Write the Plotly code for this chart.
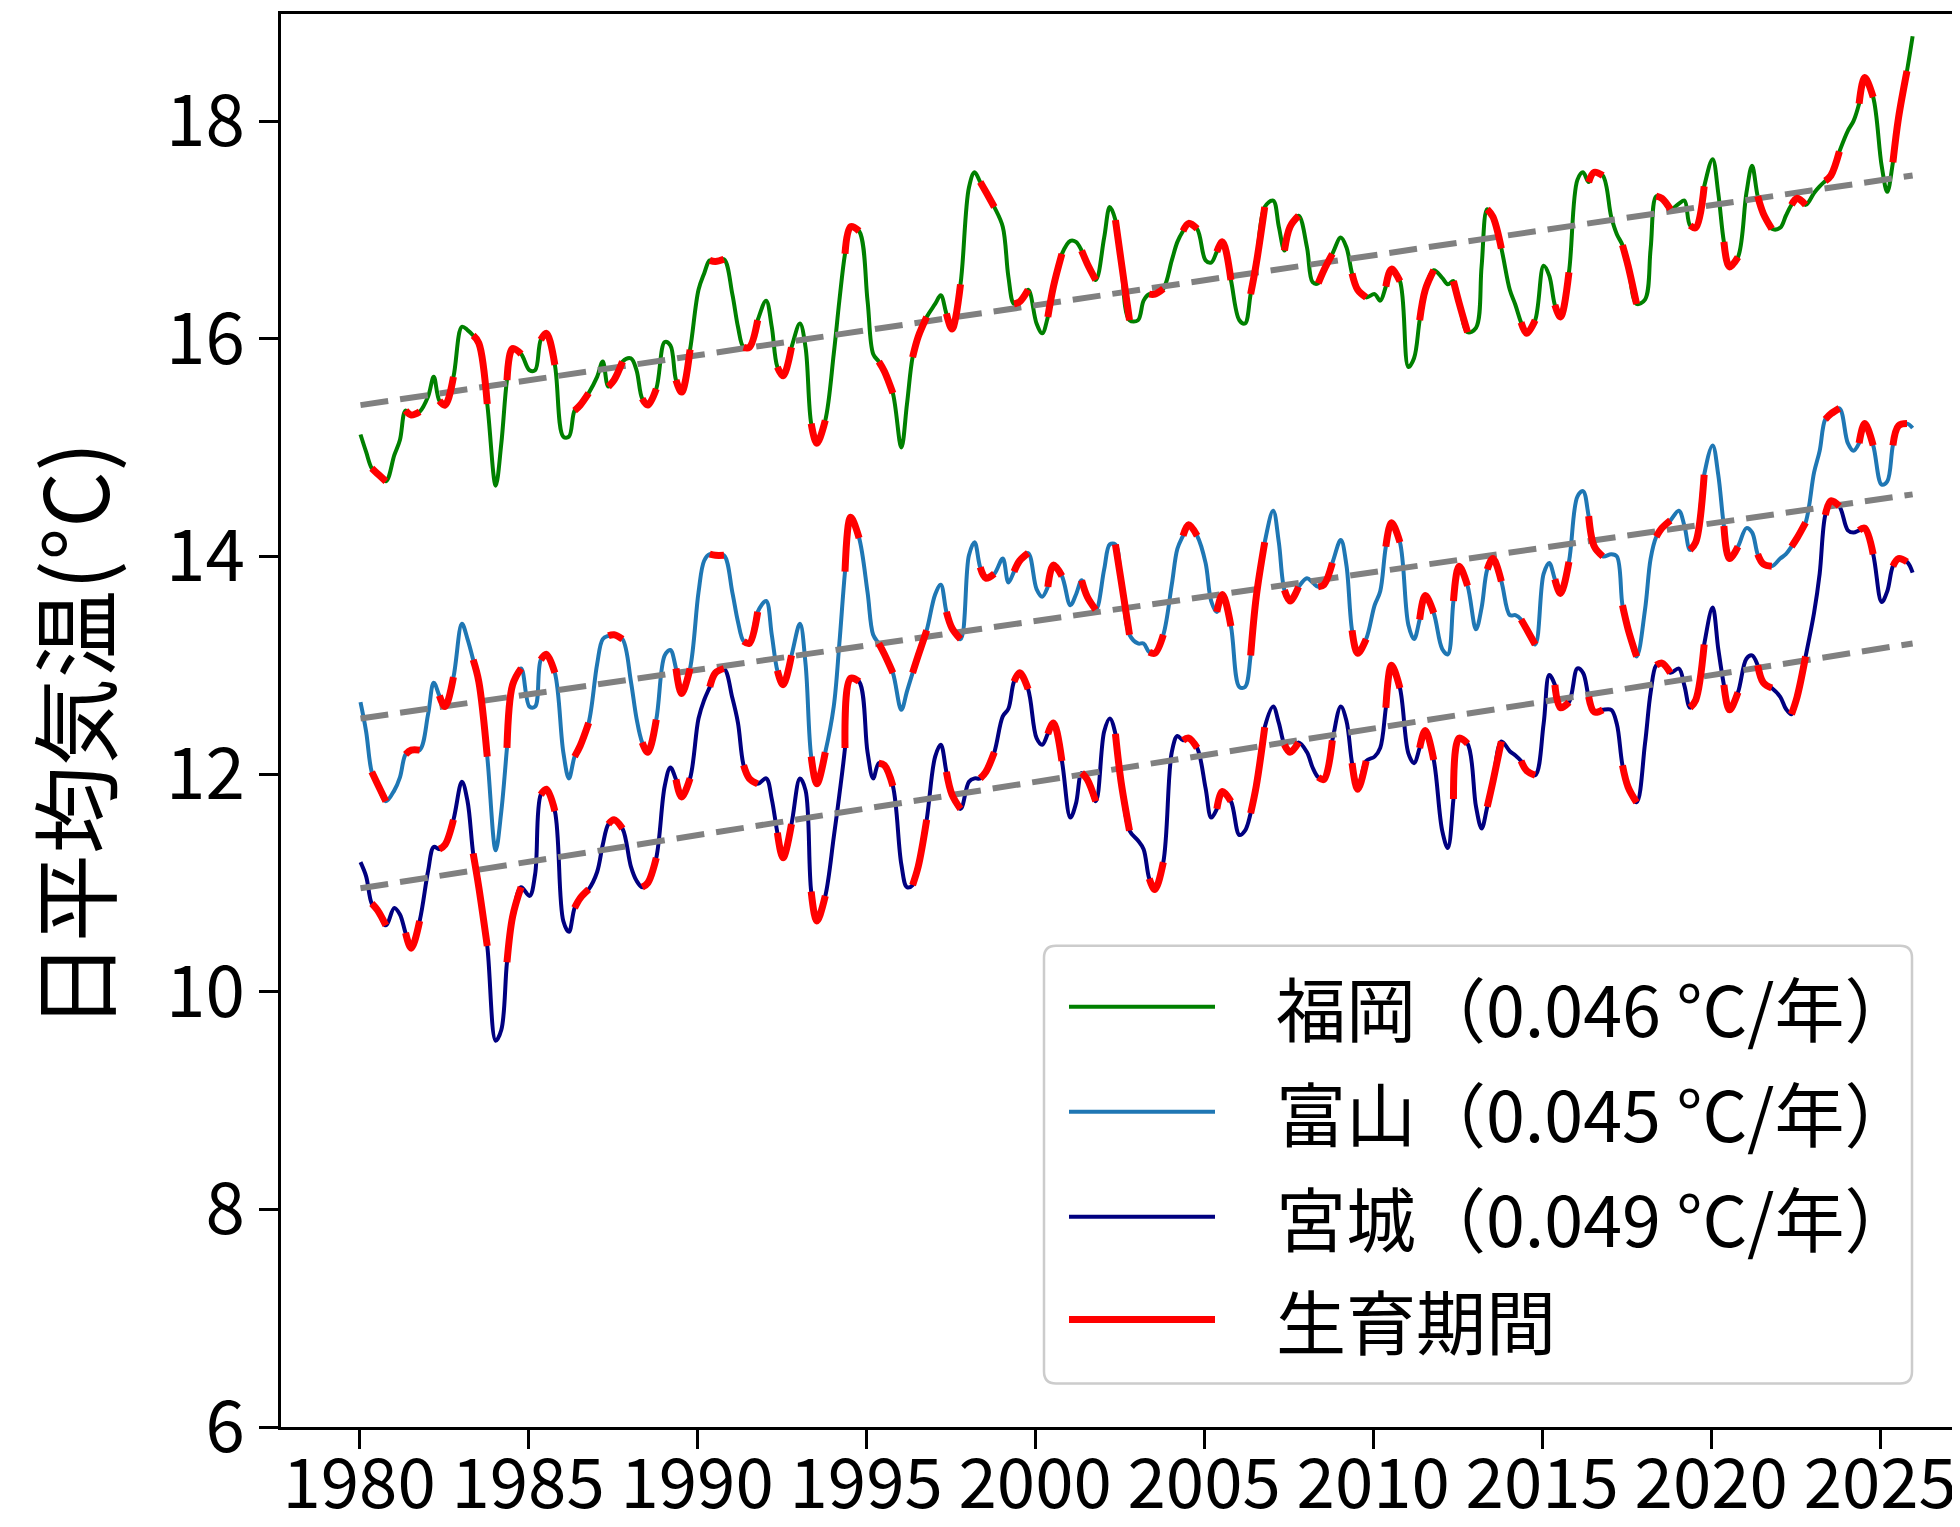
import plotly.graph_objects as go

# ---------------- data ----------------
YEARS = list(range(1980, 2026))
KNOT_MONTHS = [1, 3, 5, 7, 10]          # smoothed monthly values read at these months
FINAL_MONTH = (2025, 12)                 # last point of the series
SEASON_MONTHS = [5, 7, 10]               # 生育期間 (May - Oct)

STATIONS = ["福岡", "富山", "宮城"]
SLOPES = [0.046, 0.045, 0.049]           # °C / year (legend)
TREND_START = [15.39, 12.51, 10.95]      # trend value at start of 1980
TREND_END = [17.50, 14.57, 13.20]        # trend value at end of 2025

fukuoka = [
    15.12, 14.96, 14.81, 14.76, 14.69,
    14.93, 15.07, 15.34, 15.30, 15.33,
    15.47, 15.65, 15.43, 15.39, 15.65,
    16.11, 16.08, 16.03, 15.96, 15.40,
    14.65, 15.04, 15.62, 15.91, 15.86,
    15.71, 15.71, 15.99, 16.05, 15.76,
    15.10, 15.10, 15.34, 15.39, 15.50,
    15.65, 15.79, 15.56, 15.62, 15.79,
    15.82, 15.71, 15.45, 15.39, 15.54,
    15.97, 15.94, 15.62, 15.51, 15.90,
    16.45, 16.60, 16.72, 16.71, 16.73,
    16.41, 16.11, 15.92, 15.92, 16.17,
    16.35, 16.11, 15.74, 15.66, 15.92,
    16.14, 15.92, 15.22, 15.04, 15.25,
    15.86, 16.35, 16.78, 17.03, 16.99,
    16.35, 15.86, 15.79, 15.70, 15.50,
    15.00, 15.40, 15.83, 16.02, 16.20,
    16.32, 16.40, 16.23, 16.09, 16.50,
    17.39, 17.53, 17.44, 17.35, 17.21,
    17.03, 16.57, 16.32, 16.34, 16.45,
    16.14, 16.05, 16.20, 16.48, 16.78,
    16.90, 16.89, 16.81, 16.69, 16.54,
    16.93, 17.21, 17.09, 16.72, 16.17,
    16.17, 16.35, 16.41, 16.41, 16.46,
    16.72, 16.89, 16.99, 17.06, 17.01,
    16.72, 16.70, 16.80, 16.89, 16.54,
    16.17, 16.14, 16.41, 16.69, 17.21,
    17.27, 17.03, 16.81, 17.03, 17.13,
    16.84, 16.52, 16.51, 16.63, 16.78,
    16.93, 16.84, 16.60, 16.45, 16.38,
    16.41, 16.35, 16.48, 16.64, 16.53,
    15.74, 15.82, 16.17, 16.45, 16.63,
    16.56, 16.50, 16.53, 16.33, 16.06,
    16.10, 16.67, 17.19, 17.12, 16.83,
    16.45, 16.31, 16.15, 16.05, 16.17,
    16.67, 16.58, 16.31, 16.20, 16.61,
    17.46, 17.53, 17.44, 17.53, 17.50,
    17.12, 16.96, 16.86, 16.67, 16.32,
    16.36, 16.83, 17.31, 17.29, 17.19,
    17.24, 17.27, 17.04, 17.02, 17.40,
    17.65, 17.34, 16.89, 16.66, 16.75,
    17.34, 17.59, 17.31, 17.15, 17.01,
    17.02, 17.13, 17.23, 17.29, 17.23,
    17.34, 17.40, 17.45, 17.50, 17.72,
    17.91, 18.00, 18.16, 18.40, 18.22,
    17.59, 17.35, 17.62, 18.03, 18.46,
    18.78,
]

toyama = [
    12.66, 12.39, 12.02, 11.91, 11.75,
    11.85, 11.97, 12.18, 12.22, 12.22,
    12.55, 12.84, 12.72, 12.62, 12.89,
    13.38, 13.24, 13.05, 12.85, 12.16,
    11.30, 11.66, 12.24, 12.82, 12.97,
    12.62, 12.62, 13.05, 13.10, 12.93,
    12.20, 11.96, 12.16, 12.26, 12.47,
    13.01, 13.24, 13.27, 13.28, 13.24,
    12.85, 12.51, 12.29, 12.20, 12.50,
    13.09, 13.14, 12.97, 12.74, 12.97,
    13.67, 13.96, 14.02, 14.01, 14.01,
    13.67, 13.40, 13.22, 13.20, 13.49,
    13.59, 13.28, 12.95, 12.82, 13.09,
    13.38, 13.01, 12.16, 11.91, 12.20,
    12.62, 13.20, 13.86, 14.36, 14.17,
    13.67, 13.28, 13.20, 13.10, 12.93,
    12.59, 12.76, 12.93, 13.09, 13.32,
    13.65, 13.74, 13.49, 13.34, 13.24,
    14.01, 14.13, 13.90, 13.80, 13.84,
    13.98, 13.76, 13.86, 13.96, 14.03,
    13.70, 13.63, 13.72, 13.92, 13.82,
    13.55, 13.65, 13.78, 13.63, 13.51,
    13.88, 14.11, 14.11, 13.78, 13.28,
    13.20, 13.20, 13.12, 13.11, 13.28,
    13.74, 14.07, 14.19, 14.29, 14.19,
    13.94, 13.59, 13.49, 13.65, 13.36,
    12.80, 12.80, 13.09, 13.63, 14.13,
    14.42, 14.13, 13.69, 13.59, 13.72,
    13.80, 13.76, 13.72, 13.74, 13.94,
    14.15, 13.92, 13.32, 13.11, 13.24,
    13.55, 13.68, 14.09, 14.31, 14.13,
    13.37, 13.24, 13.42, 13.64, 13.48,
    13.15, 13.10, 13.59, 13.91, 13.73,
    13.33, 13.53, 13.88, 13.98, 13.77,
    13.46, 13.46, 13.42, 13.33, 13.19,
    13.84, 13.94, 13.79, 13.66, 13.95,
    14.55, 14.60, 14.37, 14.09, 14.00,
    14.02, 14.00, 13.55, 13.33, 13.08,
    13.51, 13.98, 14.18, 14.26, 14.33,
    14.42, 14.28, 14.06, 14.13, 14.75,
    15.02, 14.75, 14.28, 13.98, 14.09,
    14.26, 14.22, 14.02, 13.93, 13.91,
    13.98, 14.02, 14.09, 14.17, 14.31,
    14.77, 14.97, 15.26, 15.31, 15.36,
    15.04, 14.97, 15.04, 15.22, 15.02,
    14.66, 14.69, 15.02, 15.20, 15.22,
    15.18,
]

miyagi = [
    11.19, 11.06, 10.81, 10.75, 10.61,
    10.77, 10.71, 10.54, 10.40, 10.65,
    11.11, 11.33, 11.31, 11.35, 11.58,
    11.93, 11.75, 11.27, 10.96, 10.42,
    9.55, 9.65, 10.27, 10.69, 10.96,
    10.88, 11.08, 11.81, 11.86, 11.66,
    10.65, 10.55, 10.77, 10.86, 10.94,
    11.10, 11.35, 11.54, 11.58, 11.50,
    11.15, 11.02, 10.96, 11.00, 11.23,
    11.89, 12.06, 11.95, 11.79, 11.96,
    12.51, 12.68, 12.80, 12.93, 12.97,
    12.70, 12.47, 12.08, 11.96, 11.91,
    11.96, 11.77, 11.46, 11.23, 11.54,
    11.96, 11.85, 10.92, 10.65, 10.88,
    11.42, 11.81, 12.24, 12.88, 12.85,
    12.20, 11.96, 12.10, 12.08, 11.89,
    11.17, 10.96, 10.98, 11.15, 11.58,
    12.16, 12.27, 12.02, 11.81, 11.68,
    11.93, 11.96, 11.96, 12.02, 12.20,
    12.53, 12.60, 12.85, 12.93, 12.78,
    12.33, 12.27, 12.37, 12.47, 12.12,
    11.60, 11.73, 12.01, 11.95, 11.75,
    12.39, 12.51, 12.37, 11.93, 11.48,
    11.39, 11.31, 11.04, 10.94, 11.19,
    12.20, 12.35, 12.31, 12.33, 12.24,
    11.87, 11.60, 11.68, 11.84, 11.75,
    11.44, 11.48, 11.64, 11.89, 12.43,
    12.62, 12.47, 12.27, 12.20, 12.29,
    12.20, 12.06, 11.97, 11.95, 12.31,
    12.62, 12.49, 12.10, 11.86, 12.12,
    12.16, 12.24, 12.61, 13.00, 12.79,
    12.19, 12.10, 12.24, 12.40, 12.13,
    11.48, 11.32, 11.77, 12.33, 12.28,
    11.70, 11.50, 11.70, 11.93, 12.30,
    12.21, 12.17, 12.12, 12.03, 11.99,
    12.46, 12.91, 12.82, 12.61, 12.66,
    12.97, 12.93, 12.71, 12.57, 12.59,
    12.59, 12.46, 12.08, 11.88, 11.74,
    12.28, 12.75, 13.00, 13.02, 12.93,
    12.97, 12.81, 12.61, 12.68, 13.19,
    13.53, 13.15, 12.82, 12.59, 12.75,
    13.06, 13.09, 13.00, 12.84, 12.79,
    12.71, 12.60, 12.55, 12.71, 13.08,
    13.48, 13.84, 14.38, 14.51, 14.46,
    14.24, 14.22, 14.24, 14.26, 14.02,
    13.58, 13.68, 13.91, 13.98, 13.95,
    13.85,
]

SERIES = [fukuoka, toyama, miyagi]
COLORS = ["green", "#1f77b4", "navy"]
SEASON_COLOR = "red"
TREND_COLOR = "gray"
FONT = "Noto Sans CJK JP"

# time axis: (year, month) -> decimal year at mid-month
ym = [(y, m) for y in YEARS for m in KNOT_MONTHS] + [FINAL_MONTH]
x = [y + (m - 0.5) / 12 for (y, m) in ym]
months = [m for (_, m) in ym]

fig = go.Figure()

for vals, col, name in zip(SERIES, COLORS, STATIONS):
    fig.add_trace(go.Scatter(x=x, y=vals, mode="lines", name=name,
                             line=dict(color=col, width=4, shape="spline"),
                             showlegend=False, hoverinfo="skip"))

for k in range(3):
    fig.add_trace(go.Scatter(x=[x[0], x[-1]], y=[TREND_START[k], TREND_END[k]],
                             mode="lines", showlegend=False, hoverinfo="skip",
                             line=dict(color=TREND_COLOR, width=6, dash="28px,12px")))

for vals in SERIES:
    season = [v if m in SEASON_MONTHS else None for v, m in zip(vals, months)]
    fig.add_trace(go.Scatter(x=x, y=season, mode="lines", name="生育期間",
                             line=dict(color=SEASON_COLOR, width=7, shape="spline"),
                             connectgaps=False, showlegend=False, hoverinfo="skip"))

# ---------------- layout ----------------
# the page body has an 8px default margin: the figure is sized to compensate
OFF = 8
PAGE_W, PAGE_H = 1960, 1527
W, H = PAGE_W - OFF, PAGE_H - OFF
L, R, T, B = 281 - OFF, 0, 13.5 - OFF, 99.5
PW, PH = W - L - R, H - T - B


def px(xp):   # page pixel x -> paper
    return (xp - OFF - L) / PW


def py(yp):   # page pixel y -> paper
    return (H - B - (yp - OFF)) / PH


fig.update_layout(
    width=W, height=H,
    margin=dict(l=L, r=R, t=T, b=B, autoexpand=False),
    paper_bgcolor="white", plot_bgcolor="white",
    font=dict(family=FONT, color="black", size=69),
    xaxis=dict(range=[1977.69, 2027.36], tickvals=list(range(1980, 2030, 5)),
               ticks="outside", ticklen=19, tickwidth=3, tickcolor="black",
               showline=True, linewidth=3, linecolor="black", mirror=True,
               showgrid=False, zeroline=False, tickfont=dict(size=69, family=FONT),
               ticklabelstandoff=-24, automargin=False),
    yaxis=dict(range=[6, 18.984], tickvals=list(range(6, 20, 2)),
               ticks="outside", ticklen=19, tickwidth=3, tickcolor="black",
               showline=True, linewidth=3, linecolor="black", mirror=False,
               showgrid=False, zeroline=False, tickfont=dict(size=71, family=FONT),
               automargin=False),
)

# y-axis title
fig.add_annotation(text="日平均気温(°C)", xref="paper", yref="paper",
                   x=px(71), y=py(736), textangle=-90, showarrow=False,
                   xanchor="center", yanchor="middle",
                   font=dict(size=88, family=FONT, color="black"))

# ---------------- legend (drawn) ----------------
bx0, bx1, by0, by1, rad = 1044, 1912, 946, 1384, 12
rx, ry = rad / PW, rad / PH
X0, X1, Y0, Y1 = px(bx0), px(bx1), py(by1), py(by0)
path = (f"M {X0+rx},{Y0} L {X1-rx},{Y0} Q {X1},{Y0} {X1},{Y0+ry} "
        f"L {X1},{Y1-ry} Q {X1},{Y1} {X1-rx},{Y1} L {X0+rx},{Y1} "
        f"Q {X0},{Y1} {X0},{Y1-ry} L {X0},{Y0+ry} Q {X0},{Y0} {X0+rx},{Y0} Z")
fig.add_shape(type="path", path=path, xref="paper", yref="paper",
              line=dict(color="#cccccc", width=2.5), fillcolor="rgba(255,255,255,0.8)",
              layer="above")

labels = [f"{s}（{b:.3f} °C/年）" for s, b in zip(STATIONS, SLOPES)] + ["生育期間"]
lcolors = COLORS + [SEASON_COLOR]
lwidths = [4, 4, 4, 7]
rows = [1007, 1112, 1217, 1320]
for lab, c, w, yy in zip(labels, lcolors, lwidths, rows):
    fig.add_shape(type="line", xref="paper", yref="paper",
                  x0=px(1069), x1=px(1215), y0=py(yy), y1=py(yy),
                  line=dict(color=c, width=w), layer="above")
    fig.add_annotation(text=lab, xref="paper", yref="paper", x=px(1274), y=py(yy),
                       xanchor="left", yanchor="middle", showarrow=False,
                       font=dict(size=70, family=FONT, color="black"))

fig.write_html("out.html")
